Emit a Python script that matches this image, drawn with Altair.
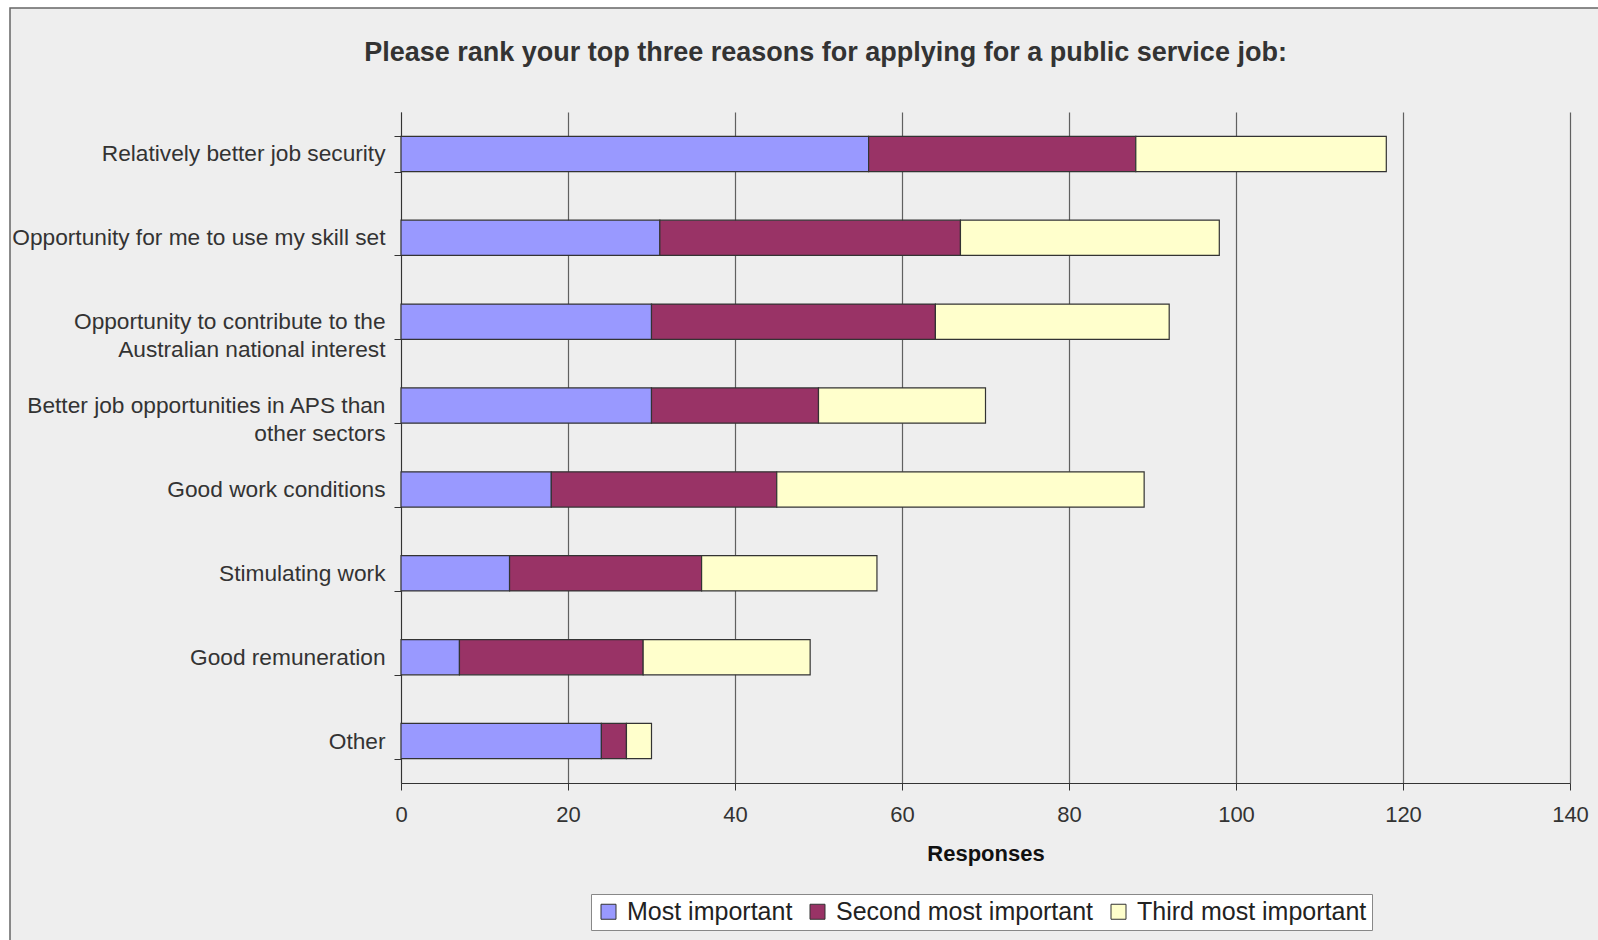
import altair as alt
import pandas as pd

title_text = "Please rank your top three reasons for applying for a public service job:"
categories = [
    "Relatively better job security",
    "Opportunity for me to use my skill set",
    "Opportunity to contribute to the\nAustralian national interest",
    "Better job opportunities in APS than\nother sectors",
    "Good work conditions",
    "Stimulating work",
    "Good remuneration",
    "Other",
]
series = ["Most important", "Second most important", "Third most important"]
most_important = [56, 31, 30, 30, 18, 13, 7, 24]
second_most = [32, 36, 34, 20, 27, 23, 22, 3]
third_most = [30, 31, 28, 20, 44, 21, 20, 3]
colors = ["#9999FF", "#993366", "#FFFFCC"]
x_ticks = [0, 20, 40, 60, 80, 100, 120, 140]

rows = []
for vals, s_i in ((most_important, 0), (second_most, 1), (third_most, 2)):
    for c, v in zip(categories, vals):
        rows.append({"reason": c, "series": series[s_i], "rank": s_i, "value": v})
df = pd.DataFrame(rows)

FONT = "Liberation Sans"
one = pd.DataFrame({"a": [0]})

# white margin strips and frame border (decoration, outside the plot area)
left_strip = alt.Chart(one).mark_rect(fill="white").encode(
    x=alt.value(-401), x2=alt.value(-391), y=alt.value(-112), y2=alt.value(828))
top_strip = alt.Chart(one).mark_rect(fill="white").encode(
    x=alt.value(-401), x2=alt.value(1197), y=alt.value(-112), y2=alt.value(-104))
frame = alt.Chart(one).mark_rect(fillOpacity=0, stroke="#666666", strokeWidth=1.5).encode(
    x=alt.value(-391), x2=alt.value(1215), y=alt.value(-104), y2=alt.value(850))

bars = alt.Chart(df).mark_bar(stroke="#333333", strokeWidth=1.2).encode(
    y=alt.Y("reason:N", sort=categories,
            scale=alt.Scale(paddingInner=0.58, paddingOuter=0.29),
            axis=alt.Axis(title=None, tickBand="extent", tickSize=7,
                          labelPadding=9, labelFontSize=22.7, labelFont=FONT,
                          labelColor="#333333", labelLimit=0, labelLineHeight=28,
                          labelExpr="split(datum.label, '\\n')",
                          domainColor="#333333", tickColor="#333333",
                          grid=False)),
    x=alt.X("value:Q", stack="zero",
            scale=alt.Scale(domain=[0, 140], nice=False),
            axis=alt.Axis(title="Responses", values=x_ticks, tickSize=7,
                          labelPadding=14, labelFontSize=22, labelFont=FONT,
                          labelFlush=False,
                          labelColor="#333333", titleFont=FONT, titleFontSize=22,
                          titleFontWeight="bold", titleColor="#111111",
                          titlePadding=18, domainColor="#333333",
                          tickColor="#333333", gridColor="#606060",
                          gridOpacity=1, gridWidth=1.2)),
    color=alt.Color("series:N", sort=series,
                    scale=alt.Scale(domain=series, range=colors),
                    legend=alt.Legend(title=None, orient="none", legendX=190,
                                      legendY=782, direction="horizontal",
                                      fillColor="white", strokeColor="#888888",
                                      padding=5, symbolType="square",
                                      symbolSize=225, symbolStrokeColor="#333333",
                                      symbolStrokeWidth=1, labelFontSize=25,
                                      labelFont=FONT, labelColor="#222222",
                                      labelLimit=0, labelOffset=6,
                                      columnPadding=12)),
    order=alt.Order("rank:Q"),
)

chart = alt.layer(bars, left_strip, top_strip, frame).properties(
    width=1169, height=671,
    title=alt.TitleParams(
        title_text,
        font=FONT, fontSize=27, fontWeight="bold", color="#333333",
        anchor="middle", frame="group", dx=-160, offset=-88, baseline="alphabetic",
    ),
    autosize=alt.AutoSizeParams(type="none"),
    padding={"left": 401, "top": 112, "right": 28, "bottom": 157},
    background="#EEEEEE",
).configure_view(stroke=None)

chart.save("out.html", embed_options={"renderer": "svg", "actions": False})
